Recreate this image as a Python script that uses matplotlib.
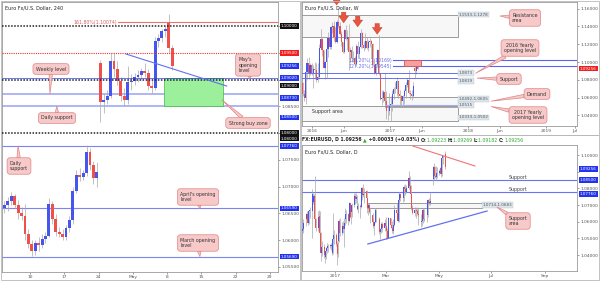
import numpy as np
import pandas as pd
import matplotlib
matplotlib.use("Agg")
import matplotlib.pyplot as plt
from matplotlib.patches import Rectangle

W, H = 600, 281
BLUE = "#4654f0"
RED = "#f0504b"
WICK = "#a8a8a8"
PINK = "#f7c9c9"
PINK_EDGE = "#e08585"
TAG = "#dde5ec"
TAG_BLUE = "#2233ee"
LINE_BLUE = "#6470f2"
GREEN = "#2fa82f"

# ---------------- 4H chart (left column), half-day bars, x = trading days from Mon 10 Apr
h4_open = [1.0660, 1.0665, 1.0672, 1.0682, 1.0666, 1.0650, 1.0645, 1.0612, 1.0592, 1.0580,
           1.0594, 1.0590, 1.0602, 1.0608, 1.0668, 1.0640, 1.0615, 1.0612, 1.0606, 1.0622,
           1.0638, 1.0692, 1.0722, 1.0718, 1.0725, 1.0765, 1.0740, 1.0715, 1.0930, 1.0858,
           1.0862, 1.0870, 1.0935, 1.0920, 1.0898, 1.0870, 1.0862, 1.0895, 1.0898, 1.0905,
           1.0908, 1.0915, 1.0912, 1.0888, 1.0885, 1.0972, 1.0978, 1.0990, 1.1005, 1.0958]
h4_high = [1.0672, 1.0680, 1.0690, 1.0686, 1.0675, 1.0662, 1.0668, 1.0620, 1.0600, 1.0600,
           1.0605, 1.0612, 1.0615, 1.0678, 1.0672, 1.0648, 1.0625, 1.0620, 1.0628, 1.0645,
           1.0700, 1.0730, 1.0735, 1.0730, 1.0778, 1.0772, 1.0748, 1.0745, 1.0937, 1.0872,
           1.0880, 1.0950, 1.0950, 1.0935, 1.0905, 1.0885, 1.0925, 1.0910, 1.0912, 1.0918,
           1.0922, 1.0930, 1.0920, 1.0900, 1.0980, 1.0985, 1.0995, 1.1000, 1.1023, 1.0965]
h4_low = [1.0650, 1.0655, 1.0665, 1.0660, 1.0640, 1.0638, 1.0600, 1.0585, 1.0570, 1.0572,
          1.0580, 1.0585, 1.0595, 1.0605, 1.0630, 1.0608, 1.0605, 1.0600, 1.0600, 1.0615,
          1.0630, 1.0688, 1.0710, 1.0712, 1.0720, 1.0730, 1.0705, 1.0700, 1.0821, 1.0838,
          1.0855, 1.0865, 1.0905, 1.0890, 1.0860, 1.0850, 1.0855, 1.0880, 1.0890, 1.0895,
          1.0900, 1.0905, 1.0880, 1.0875, 1.0880, 1.0960, 1.0970, 1.0980, 1.0950, 1.0918]
h4_close = [1.0665, 1.0672, 1.0682, 1.0666, 1.0650, 1.0645, 1.0612, 1.0592, 1.0580, 1.0594,
            1.0590, 1.0602, 1.0608, 1.0668, 1.0640, 1.0615, 1.0612, 1.0606, 1.0622, 1.0638,
            1.0692, 1.0722, 1.0718, 1.0725, 1.0765, 1.0740, 1.0715, 1.0728, 1.0858, 1.0862,
            1.0870, 1.0935, 1.0920, 1.0898, 1.0870, 1.0862, 1.0895, 1.0898, 1.0905, 1.0908,
            1.0915, 1.0912, 1.0888, 1.0885, 1.0972, 1.0978, 1.0990, 1.0995, 1.0958, 1.0926]
h4_first_day = -4.0
h4_ticks = ["10", "17", "24", "May", "8", "15", "22", "29"]
h4_price_ticks = [1.055, 1.060, 1.065, 1.070, 1.075, 1.080, 1.085, 1.090, 1.095, 1.100]
h4_hidden_ticks = [1.080, 1.090, 1.095, 1.100]   # sit under coloured tags

h4_tag_values = [1.1000, 1.0950, 1.09256, 1.0902, 1.0900, 1.0873, 1.0850, 1.0800, 1.0800, 1.0776, 1.0659, 1.0569]
h4_tag_texts = ["1.10000", "1.09500", "1.09256", "1.09020", "1.09000", "1.08730", "1.08500",
                "1.08000", "1.08000", "1.07760", "1.06590", "1.05690"]
h4_tag_colors = ["#111111", "#f01e1e", TAG_BLUE, TAG_BLUE, "#111111", TAG_BLUE, TAG_BLUE,
                 "#111111", "#111111", TAG_BLUE, TAG_BLUE, TAG_BLUE]
h4_tag_nudge = [0, 0, 0, -0.5, 6, 4, 11, 0, 5.5, 0, 0, 0]

fib_4h = 1.10074
black_levels_4h = [1.1000, 1.0900, 1.0800]
may_open = 1.0902
weekly_level = 1.0873
daily_support = 1.0850
blue_levels_4h = [1.0776, 1.0659, 1.0569]
buy_zone = (1.0850, 1.0902)

# ---------------- weekly chart
wk_open = [1.0765, 1.0646, 1.0594, 1.0887, 1.0990, 1.0866, 1.0970, 1.0860, 1.0925, 1.0915,
           1.0795, 1.0830, 1.1155, 1.1255, 1.1130, 1.0935, 1.1005, 1.1150, 1.1265, 1.1165,
           1.1390, 1.1400, 1.1285, 1.1225, 1.1455, 1.1400, 1.1310, 1.1225, 1.1115, 1.1365,
           1.1255, 1.1280, 1.1115, 1.1135, 1.1050, 1.1040, 1.0975, 1.1175, 1.1085, 1.1165,
           1.1325, 1.1190, 1.1155, 1.1235, 1.1155, 1.1225, 1.1240, 1.1200, 1.0970, 1.0880,
           1.0975, 1.1140, 1.0860, 1.0585, 1.0590, 1.0665, 1.0560, 1.0450, 1.0455, 1.0520,
           1.0530, 1.0645, 1.0700, 1.0695, 1.0785, 1.0640, 1.0615, 1.0560, 1.0620, 1.0670,
           1.0740, 1.0800, 1.0650, 1.0640, 1.0615, 1.0930, 1.0895, 1.1005]
wk_high = [1.0775, 1.0685, 1.0981, 1.1043, 1.1060, 1.0990, 1.0990, 1.0970, 1.0995, 1.0990,
           1.0985, 1.1198, 1.1376, 1.1270, 1.1140, 1.1010, 1.1218, 1.1342, 1.1275, 1.1410,
           1.1454, 1.1465, 1.1398, 1.1475, 1.1616, 1.1445, 1.1345, 1.1230, 1.1375, 1.1416,
           1.1355, 1.1427, 1.1165, 1.1185, 1.1120, 1.1065, 1.1198, 1.1235, 1.1185, 1.1366,
           1.1340, 1.1240, 1.1327, 1.1280, 1.1245, 1.1265, 1.1245, 1.1215, 1.1040, 1.0990,
           1.1145, 1.1299, 1.0880, 1.0685, 1.0690, 1.0875, 1.0670, 1.0490, 1.0650, 1.0620,
           1.0685, 1.0720, 1.0775, 1.0829, 1.0790, 1.0680, 1.0630, 1.0630, 1.0700, 1.0780,
           1.0825, 1.0906, 1.0690, 1.0680, 1.0778, 1.0950, 1.0995, 1.1023]
wk_low = [1.0616, 1.0566, 1.0524, 1.0800, 1.0805, 1.0850, 1.0850, 1.0710, 1.0805, 1.0778,
          1.0780, 1.0810, 1.1150, 1.1067, 1.0930, 1.0810, 1.0822, 1.1060, 1.1145, 1.1145,
          1.1330, 1.1235, 1.1215, 1.1215, 1.1385, 1.1300, 1.1180, 1.1100, 1.1100, 1.1250,
          1.1130, 1.0912, 1.0990, 1.1000, 1.1000, 1.0952, 1.0955, 1.1045, 1.1040, 1.1155,
          1.1160, 1.1125, 1.1150, 1.1150, 1.1125, 1.1165, 1.1045, 1.0960, 1.0860, 1.0850,
          1.0970, 1.0850, 1.0570, 1.0518, 1.0550, 1.0505, 1.0365, 1.0352, 1.0400, 1.0340,
          1.0450, 1.0580, 1.0655, 1.0620, 1.0590, 1.0520, 1.0495, 1.0495, 1.0525, 1.0600,
          1.0720, 1.0645, 1.0580, 1.0570, 1.0600, 1.0821, 1.0870, 1.0918]
wk_close = [1.0646, 1.0594, 1.0887, 1.0990, 1.0866, 1.0970, 1.0860, 1.0925, 1.0915, 1.0795,
            1.0830, 1.1155, 1.1255, 1.1130, 1.0935, 1.1005, 1.1150, 1.1265, 1.1165, 1.1390,
            1.1400, 1.1285, 1.1225, 1.1455, 1.1400, 1.1310, 1.1225, 1.1115, 1.1365, 1.1255,
            1.1280, 1.1115, 1.1135, 1.1050, 1.1040, 1.0975, 1.1175, 1.1085, 1.1165, 1.1325,
            1.1190, 1.1155, 1.1235, 1.1155, 1.1225, 1.1240, 1.1200, 1.0970, 1.0880, 1.0975,
            1.1140, 1.0860, 1.0585, 1.0590, 1.0665, 1.0560, 1.0450, 1.0455, 1.0520, 1.0530,
            1.0645, 1.0700, 1.0695, 1.0785, 1.0640, 1.0615, 1.0560, 1.0620, 1.0670, 1.0740,
            1.0800, 1.0650, 1.0640, 1.0615, 1.0725, 1.0895, 1.0995, 1.0926]
wk_start = "2015-11-16"
wk_tick_pos = [2016.0, 2016.414, 2017.0, 2017.414, 2018.0, 2018.414, 2019.0, 2019.37]
wk_tick_lab = ["2016", "Jun", "2017", "Jun", "2018", "Jun", "2019", "Jul"]
wk_price_ticks = [1.04, 1.06, 1.08, 1.10, 1.12, 1.14, 1.16]

resistance = (1.1278, 1.1533)
demand = (1.0492, 1.0605)
support_area = (1.0333, 1.0502)
wk_levels = [1.0873, 1.0819]
yearly_2017 = 1.0515
fib_wk = [1.10169, 1.09545]
wk_arrow_t = [2016.32, 2016.41, 2016.59, 2016.84]
wk_arrow_p = [1.1640, 1.1440, 1.1395, 1.1312]

# ---------------- daily chart
d_start, d_end = "2016-11-24", "2017-05-08"
d_first_open = 1.0545
d_gap_opens = {"2017-04-24": 1.0930, "2017-05-08": 1.1005}
d_close = [1.0555, 1.0590,
           1.0615, 1.0645, 1.0590, 1.0665, 1.0665,
           1.0765, 1.0720, 1.0755, 1.0615, 1.0560,
           1.0630, 1.0635, 1.0535, 1.0410, 1.0450,
           1.0400, 1.0390, 1.0425, 1.0440, 1.0455,
           1.0455, 1.0455, 1.0410, 1.0495, 1.0520,
           1.0465, 1.0405, 1.0485, 1.0605, 1.0530,
           1.0575, 1.0555, 1.0590, 1.0615, 1.0645,
           1.0605, 1.0715, 1.0630, 1.0660, 1.0700,
           1.0755, 1.0735, 1.0750, 1.0675, 1.0695,
           1.0690, 1.0800, 1.0760, 1.0765, 1.0785,
           1.0745, 1.0685, 1.0700, 1.0660, 1.0640,
           1.0600, 1.0575, 1.0600, 1.0670, 1.0615,
           1.0615, 1.0540, 1.0555, 1.0585, 1.0560,
           1.0595, 1.0575, 1.0545, 1.0505, 1.0620,
           1.0580, 1.0565, 1.0545, 1.0580, 1.0670,
           1.0655, 1.0605, 1.0730, 1.0765, 1.0740,
           1.0740, 1.0810, 1.0795, 1.0780, 1.0800,
           1.0865, 1.0815, 1.0765, 1.0680, 1.0650,
           1.0670, 1.0670, 1.0665, 1.0645, 1.0640,
           1.0600, 1.0605, 1.0670, 1.0615, 1.0615,
           1.0640, 1.0730, 1.0715, 1.0715, 1.0725,
           1.0855, 1.0930, 1.0875, 1.0870, 1.0895,
           1.0905, 1.0925, 1.0885, 1.0985, 1.0995,
           1.0926]
d_high = [1.0570, 1.0615,
          1.0650, 1.0665, 1.0655, 1.0670, 1.0690,
          1.0795, 1.0775, 1.0765, 1.0875, 1.0620,
          1.0665, 1.0670, 1.0665, 1.0540, 1.0485,
          1.0465, 1.0410, 1.0450, 1.0475, 1.0465,
          1.0465, 1.0470, 1.0475, 1.0650, 1.0550,
          1.0530, 1.0485, 1.0500, 1.0615, 1.0620,
          1.0600, 1.0605, 1.0620, 1.0685, 1.0670,
          1.0650, 1.0720, 1.0715, 1.0680, 1.0710,
          1.0775, 1.0770, 1.0775, 1.0760, 1.0715,
          1.0705, 1.0810, 1.0810, 1.0829, 1.0800,
          1.0790, 1.0745, 1.0715, 1.0715, 1.0675,
          1.0655, 1.0620, 1.0605, 1.0680, 1.0675,
          1.0630, 1.0620, 1.0560, 1.0600, 1.0600,
          1.0615, 1.0630, 1.0575, 1.0560, 1.0630,
          1.0625, 1.0605, 1.0575, 1.0615, 1.0700,
          1.0715, 1.0665, 1.0740, 1.0780, 1.0775,
          1.0750, 1.0820, 1.0825, 1.0805, 1.0820,
          1.0906, 1.0875, 1.0820, 1.0770, 1.0700,
          1.0690, 1.0680, 1.0690, 1.0680, 1.0670,
          1.0645, 1.0625, 1.0680, 1.0675, 1.0625,
          1.0650, 1.0737, 1.0740, 1.0778, 1.0745,
          1.0937, 1.0950, 1.0935, 1.0935, 1.0930,
          1.0915, 1.0930, 1.0935, 1.0990, 1.0999,
          1.1023]
d_low = [1.0535, 1.0550,
         1.0575, 1.0600, 1.0580, 1.0585, 1.0620,
         1.0505, 1.0705, 1.0715, 1.0600, 1.0545,
         1.0545, 1.0600, 1.0510, 1.0365, 1.0395,
         1.0385, 1.0352, 1.0375, 1.0415, 1.0420,
         1.0440, 1.0430, 1.0400, 1.0405, 1.0465,
         1.0455, 1.0340, 1.0390, 1.0480, 1.0515,
         1.0520, 1.0530, 1.0450, 1.0580, 1.0595,
         1.0580, 1.0600, 1.0620, 1.0585, 1.0630,
         1.0690, 1.0705, 1.0715, 1.0670, 1.0655,
         1.0620, 1.0685, 1.0730, 1.0750, 1.0710,
         1.0715, 1.0655, 1.0640, 1.0650, 1.0590,
         1.0590, 1.0565, 1.0520, 1.0590, 1.0600,
         1.0595, 1.0525, 1.0495, 1.0535, 1.0540,
         1.0545, 1.0565, 1.0495, 1.0495, 1.0500,
         1.0560, 1.0555, 1.0535, 1.0525, 1.0575,
         1.0640, 1.0600, 1.0600, 1.0715, 1.0725,
         1.0720, 1.0725, 1.0770, 1.0760, 1.0770,
         1.0795, 1.0800, 1.0740, 1.0670, 1.0645,
         1.0635, 1.0625, 1.0640, 1.0630, 1.0580,
         1.0570, 1.0575, 1.0590, 1.0605, 1.0605,
         1.0600, 1.0630, 1.0700, 1.0705, 1.0700,
         1.0821, 1.0850, 1.0865, 1.0850, 1.0865,
         1.0880, 1.0890, 1.0870, 1.0875, 1.0945,
         1.0918]
d_tick_pos = [0, 59, 120, 181, 243]
d_tick_lab = ["2017", "Mar", "May", "Jul", "Sep"]
d_price_ticks = [1.04, 1.05, 1.06, 1.07, 1.08, 1.09, 1.10]
d_hidden_ticks = [1.09]
d_levels = [1.0850, 1.0776]
d_zone = (1.0683, 1.0714)
d_res_line = ([90, 162], [1.1054, 1.0934])
d_sup_line = ([38, 176], [1.0466, 1.0664])

header = [("FX:EURUSD, D 1.09256 ", "#222222", "bold"), ("\u25b2", GREEN, "normal"),
          (" +0.00033 (+0.03%) ", "#222222", "bold"), ("O:", "#222222", "bold"),
          ("1.09223 ", GREEN, "normal"), ("H:", "#222222", "bold"), ("1.09269 ", GREEN, "normal"),
          ("L:", "#222222", "bold"), ("1.09182 ", GREEN, "normal"), ("C:", "#222222", "bold"),
          ("1.09256", GREEN, "normal")]


def rect(x0, y0, x1, y1):
    return [x0 / W, 1 - y1 / H, (x1 - x0) / W, (y1 - y0) / H]


def style(ax):
    for s in ax.spines.values():
        s.set_color("#9a9a9a")
        s.set_linewidth(0.6)
    ax.yaxis.tick_right()
    ax.tick_params(axis="both", labelsize=3.2, colors="#555555", length=1.5, width=0.4, pad=1)


def price_axis(ax, ticks, hidden=()):
    ax.set_yticks(ticks)
    ax.set_yticklabels(["" if any(abs(v - h) < 1e-9 for h in hidden) else f"{v:.5f}" for v in ticks])


def draw_candles(ax, x, o, hi, lo, c, width, min_body):
    o, hi, lo, c = map(np.asarray, (o, hi, lo, c))
    ax.vlines(x, lo, hi, color=WICK, lw=0.5, zorder=2)
    body = np.maximum(np.abs(c - o), min_body)
    ax.bar(x, body, bottom=np.minimum(o, c), width=width,
           color=np.where(c >= o, BLUE, RED), lw=0, zorder=3)


def tag(ax, y, text, fc, tc="white", nudge=0):
    ax.annotate(text, xy=(1, y), xycoords=("axes fraction", "data"),
                xytext=(3, -nudge), textcoords="offset pixels", ha="left", va="center",
                fontsize=3.0, color=tc, annotation_clip=False, zorder=8,
                bbox=dict(boxstyle="square,pad=0.18", fc=fc, ec="none"))


def callout(ax, text, box_px, target, align="center"):
    ax.annotate(text, xy=target, xycoords="data",
                xytext=(box_px[0], H - box_px[1]), textcoords="figure pixels",
                ha="center", va="center", multialignment=align, fontsize=3.4, color="#333333",
                bbox=dict(boxstyle="round,pad=0.6", fc=PINK, ec=PINK_EDGE, lw=0.5),
                arrowprops=dict(arrowstyle="wedge,tail_width=0.7", fc=PINK, ec=PINK_EDGE,
                                lw=0.5, shrinkA=0, shrinkB=0),
                annotation_clip=False, zorder=9)


def price_tag_box(ax, x, y, text, nudge=0):
    ax.annotate(text, xy=(x, y), xycoords="data", xytext=(1, -nudge),
                textcoords="offset pixels", ha="left", va="center", fontsize=3.0,
                color="#555555", annotation_clip=False, zorder=7,
                bbox=dict(boxstyle="square,pad=0.2", fc=TAG, ec="#b9c4cc", lw=0.3))


fig = plt.figure(figsize=(6, 2.81), dpi=100)
fig.patch.set_facecolor("white")

# ================= left: 4H chart =================
axL = fig.add_axes(rect(2, 2, 278, 272))
style(axL)
axL.set_xlim(-4.1, 36.2)
axL.set_ylim(1.05402, 1.10449)
h4_x = h4_first_day + 0.5 * np.arange(len(h4_close)) + 0.25
draw_candles(axL, h4_x, h4_open, h4_high, h4_low, h4_close, 0.42, 0.0001)
axL.set_xticks(np.arange(0, 5 * len(h4_ticks), 5))
axL.set_xticklabels(h4_ticks)
price_axis(axL, h4_price_ticks, h4_hidden_ticks)

for lv in black_levels_4h:
    axL.axhline(lv, color="#222222", lw=1.1, ls=(0, (1, 1)), zorder=4)
axL.axhline(1.0950, color="#f03030", lw=0.8, ls=(0, (1, 1)), zorder=4)
axL.axhline(may_open, color="#3040e0", lw=0.5, zorder=4)
axL.axhline(weekly_level, color="#aeb4f8", lw=1.4, zorder=1)
axL.axhline(daily_support, color="#aeb4f8", lw=1.4, zorder=1)
for lv in blue_levels_4h:
    axL.axhline(lv, color="#7c84f4", lw=0.8, zorder=1)
axL.plot([12.8, 36.2], [fib_4h, fib_4h], color="#f07070", lw=0.8, zorder=4)
axL.text(12.7, fib_4h, "161.80%(1.10074)", color="#e05a5a", fontsize=3.3, ha="right", va="center")
axL.plot([14.0, 28.7], [1.09477, 1.08879], color=LINE_BLUE, lw=0.8, zorder=4)
axL.add_patch(Rectangle((19.5, buy_zone[0]), 8.6, buy_zone[1] - buy_zone[0],
                        fc="#9cf09c", ec="#40b840", lw=0.5, zorder=1))

for v, t, c, n in zip(h4_tag_values, h4_tag_texts, h4_tag_colors, h4_tag_nudge):
    tag(axL, v, t, c, nudge=n)

fig.text(5 / W, 1 - 8 / H, "Euro Fx/U.S. Dollar, 240", fontsize=3.5, va="center", color="#222222")
callout(axL, "Weekly level", (51, 69), (2.9, weekly_level))
callout(axL, "Daily support", (57, 118), (3.9, daily_support))
callout(axL, "May's\nopening\nlevel", (248, 65), (32.1, may_open), "left")
callout(axL, "Strong buy zone", (248, 123), (28.0, 1.0862))
callout(axL, "Daily\nsupport", (19, 166), (-1.75, 1.0776), "left")
callout(axL, "April's opening\nlevel", (198, 197), (24.8, 1.0659), "left")
callout(axL, "March opening\nlevel", (198, 243), (24.8, 1.0569), "left")

# ================= top right: weekly chart =================
axW = fig.add_axes(rect(302, 2, 577, 126))
style(axW)
axW.set_xlim(2015.876, 2019.401)
axW.set_ylim(1.02809, 1.16742)
wk_dates = pd.date_range(wk_start, periods=len(wk_close), freq="7D")
wk_x = wk_dates.year + (wk_dates.dayofyear - 1 + 3.5) / 365.25
draw_candles(axW, wk_x, wk_open, wk_high, wk_low, wk_close, 5 / 365.25, 0.0004)
axW.set_xticks(wk_tick_pos)
axW.set_xticklabels(wk_tick_lab)
price_axis(axW, wk_price_ticks)

box_end = 2017.87
axW.add_patch(Rectangle((2015.8, resistance[0]), box_end - 2015.8, resistance[1] - resistance[0],
                        fc=(0.85, 0.85, 0.85, 0.2), ec="#8c8c8c", lw=0.6, zorder=1))
axW.add_patch(Rectangle((2016.94, demand[0]), box_end - 2016.94, demand[1] - demand[0],
                        fc=(0.85, 0.85, 0.85, 0.2), ec="#8c8c8c", lw=0.6, zorder=1))
axW.add_patch(Rectangle((2015.8, support_area[0]), box_end - 2015.8, support_area[1] - support_area[0],
                        fc=(0.85, 0.85, 0.85, 0.2), ec="#8c8c8c", lw=0.6, zorder=1))
for lv in wk_levels:
    axW.plot([2015.8, box_end], [lv, lv], color=LINE_BLUE, lw=0.7, zorder=4)
axW.plot([2016.94, box_end], [yearly_2017, yearly_2017], color="#a8aef6", lw=0.8, zorder=4)
for lv in fib_wk:
    axW.plot([2017.04, 2019.5], [lv, lv], color="#5a64f0", lw=0.8, zorder=4)
axW.text(2017.03, fib_wk[0], "127.20%(1.10169)", color="#6870e8", fontsize=3.3, ha="right", va="center", zorder=5)
axW.text(2017.03, fib_wk[1], "127.20%(1.09545)", color="#6870e8", fontsize=3.3, ha="right", va="center", zorder=5)
axW.add_patch(Rectangle((2017.18, fib_wk[1]), 0.22, fib_wk[0] - fib_wk[1],
                        fc="#f3a0a0", ec="#e05050", lw=0.6, zorder=5))
for t, p in zip(wk_arrow_t, wk_arrow_p):
    axW.annotate("", xy=(t, p), xytext=(t, p + 0.012),
                 arrowprops=dict(arrowstyle="simple,head_length=0.7,head_width=1.0,tail_width=0.45",
                                 fc="#e8553e", ec="#c03a2a", lw=0.3, shrinkA=0, shrinkB=0,
                                 mutation_scale=7), zorder=6)

price_tag_box(axW, box_end, resistance[1], "1.1533-1.1278")
price_tag_box(axW, box_end, wk_levels[0], "1.0873")
price_tag_box(axW, box_end, wk_levels[1], "1.0819", nudge=3)
price_tag_box(axW, box_end, demand[1], "1.0492-1.0605", nudge=2)
price_tag_box(axW, box_end, yearly_2017, "1.0515", nudge=0)
price_tag_box(axW, box_end, support_area[0], "1.0333-1.0502", nudge=-4)
axW.text(2016.0, 1.0440, "Support area", fontsize=3.4, color="#333333", va="center")
tag(axW, 1.09256, "1.09256", "#f01e1e")

fig.text(305 / W, 1 - 8 / H, "Euro Fx/U.S. Dollar, W", fontsize=3.5, va="center", color="#222222")
callout(axW, "Resistance\narea", (525, 18), (2018.414, 1.1517), "left")
callout(axW, "2016 Yearly\nopening level", (520, 48), (2018.10, wk_levels[0]))
callout(axW, "Support", (509, 79), (2018.12, wk_levels[1]))
callout(axW, "Demand", (537, 94), (2018.30, 1.0560))
callout(axW, "2017 Yearly\nopening level", (528, 115), (2018.30, 1.0500))

# ================= bottom right: daily chart =================
axD = fig.add_axes(rect(302, 145, 577, 271))
style(axD)
axD.set_xlim(-38.2, 280.1)
axD.set_ylim(1.03041, 1.10600)
d_dates = pd.bdate_range(d_start, d_end)
d_open = [d_first_open] + d_close[:-1]
for day, val in d_gap_opens.items():
    d_open[d_dates.get_loc(pd.Timestamp(day))] = val
d_x = np.asarray((d_dates - pd.Timestamp("2017-01-01")).days) + 0.5
draw_candles(axD, d_x, d_open, d_high, d_low, d_close, 1.0, 0.00025)
axD.set_xticks(d_tick_pos)
axD.set_xticklabels(d_tick_lab)
price_axis(axD, d_price_ticks, d_hidden_ticks)

for lv in d_levels:
    axD.axhline(lv, color="#6a72f2", lw=0.8, zorder=1)
    axD.text(212, lv + 0.0003, "Support", fontsize=3.4, color="#444444", ha="center", va="bottom")
axD.plot(*d_res_line, color="#f07474", lw=0.8, zorder=4)
axD.plot(*d_sup_line, color=LINE_BLUE, lw=0.9, zorder=4)
axD.add_patch(Rectangle((37, d_zone[0]), 133, d_zone[1] - d_zone[0],
                        fc=(0.85, 0.85, 0.85, 0.2), ec="#8c8c8c", lw=0.6, zorder=1))
price_tag_box(axD, 170, sum(d_zone) / 2, "1.0714-1.0683")
tag(axD, 1.09256, "1.09256", TAG_BLUE, nudge=1.5)
tag(axD, d_levels[0], "1.08500", TAG_BLUE)
tag(axD, d_levels[1], "1.07760", TAG_BLUE, nudge=1.5)
fig.text(305 / W, 1 - 152 / H, "Euro Fx/U.S. Dollar, D", fontsize=3.5, va="center", color="#222222")
callout(axD, "Support\narea", (518, 221), (187.5, 1.0688), "left")

# header line above the daily chart
prev = fig.text(302 / W, 1 - 142.5 / H, header[0][0], fontsize=3.3, color=header[0][1],
                fontweight=header[0][2], va="bottom")
for txt, col, wt in header[1:]:
    prev = axD.annotate(txt, xy=(1, 0), xycoords=prev, va="bottom", ha="left", fontsize=3.3,
                        color=col, fontweight=wt, annotation_clip=False)

# panel frames
for x0, y0, x1, y1 in [(1, 1, 300, 280), (301, 1, 599, 135), (301, 135, 599, 280)]:
    fig.add_artist(Rectangle((x0 / W, 1 - y1 / H), (x1 - x0) / W, (y1 - y0) / H,
                             transform=fig.transFigure, fill=False, ec="#b8b8b8", lw=0.6))

fig.savefig("out.png", dpi=100)
